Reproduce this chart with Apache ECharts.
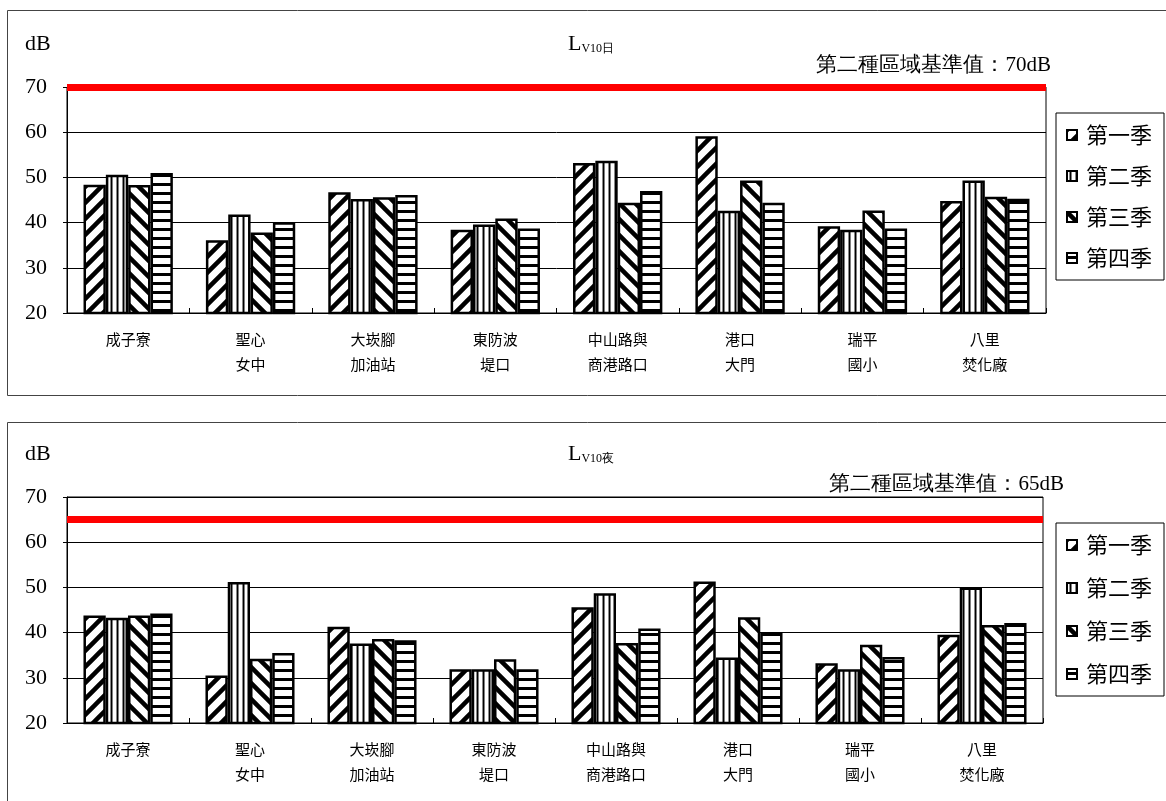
<!DOCTYPE html>
<html>
<head>
<meta charset="utf-8">
<script src="https://cdn.jsdelivr.net/npm/echarts@6/dist/echarts.min.js"></script>
<style>
html,body{margin:0;padding:0;background:#fff;}
#c{width:1166px;height:801px;}
</style>
</head>
<body>
<div id="c"></div>
<script>
const categories = ['成子寮','聖心\n女中','大崁腳\n加油站','東防波\n堤口','中山路與\n商港路口','港口\n大門','瑞平\n國小','八里\n焚化廠'];
const seriesNames = ['第一季','第二季','第三季','第四季'];
const yTicks = [20, 30, 40, 50, 60, 70];

const dayQ1 = [48.4, 36.1, 46.7, 38.4, 53.2, 59.1, 39.2, 44.8];
const dayQ2 = [50.6, 41.8, 45.2, 39.6, 53.7, 42.6, 38.4, 49.3];
const dayQ3 = [48.3, 37.8, 45.6, 40.9, 44.4, 49.3, 42.7, 45.7];
const dayQ4 = [51.0, 40.1, 46.1, 38.7, 47.0, 44.4, 38.7, 45.3];
const dayLimit = 70;

const nightQ1 = [43.8, 30.5, 41.3, 31.9, 45.6, 51.3, 33.2, 39.5];
const nightQ2 = [43.3, 51.2, 37.6, 31.9, 48.7, 34.5, 31.9, 50.0];
const nightQ3 = [43.8, 34.2, 38.6, 34.1, 37.7, 43.4, 37.3, 41.7];
const nightQ4 = [44.2, 35.5, 38.3, 31.9, 40.9, 40.0, 34.6, 42.1];
const nightLimit = 65;

function makePattern(type) {
  const cv = document.createElement('canvas');
  let w, h;
  if (type === 'fwd' || type === 'back') { w = 16; h = 16; }
  else if (type === 'vert') { w = 6; h = 4; }
  else { w = 4; h = 9; }
  cv.width = w; cv.height = h;
  const ctx = cv.getContext('2d');
  ctx.fillStyle = '#fff';
  ctx.fillRect(0, 0, w, h);
  ctx.strokeStyle = '#000';
  ctx.fillStyle = '#000';
  if (type === 'fwd') {
    ctx.lineWidth = 4.5;
    ctx.beginPath();
    ctx.moveTo(-2, h + 2); ctx.lineTo(w + 2, -2);
    ctx.moveTo(-2, 2); ctx.lineTo(2, -2);
    ctx.moveTo(w - 2, h + 2); ctx.lineTo(w + 2, h - 2);
    ctx.stroke();
  } else if (type === 'back') {
    ctx.lineWidth = 4.5;
    ctx.beginPath();
    ctx.moveTo(-2, -2); ctx.lineTo(w + 2, h + 2);
    ctx.moveTo(w - 2, -2); ctx.lineTo(w + 2, 2);
    ctx.moveTo(-2, h - 2); ctx.lineTo(2, h + 2);
    ctx.stroke();
  } else if (type === 'vert') {
    ctx.fillStyle = '#888';
    ctx.fillRect(2, 0, 1, h);
    ctx.fillStyle = '#000';
    ctx.fillRect(3, 0, 1.5, h);
  } else {
    ctx.fillRect(0, 3, w, 3);
  }
  return cv;
}
const patterns = [makePattern('fwd'), makePattern('vert'), makePattern('back'), makePattern('horiz')];

const serif = 'Liberation Serif';
const cjk = 'Noto Sans CJK TC';

function makeSeries(dataArr, gridIdx, limit) {
  return dataArr.map((d, i) => {
    const s = {
      name: seriesNames[i],
      type: 'bar',
      xAxisIndex: gridIdx,
      yAxisIndex: gridIdx,
      data: d,
      barGap: '0%',
      barCategoryGap: '27%',
      itemStyle: { color: { image: patterns[i], repeat: 'repeat' }, borderColor: '#000', borderWidth: 2.5 },
      emphasis: { disabled: true },
      animation: false
    };
    if (i === 0) {
      s.markLine = {
        silent: true,
        symbol: ['none', 'none'],
        label: { show: false },
        lineStyle: { color: '#ff0000', width: 7, type: 'solid' },
        data: [{ yAxis: limit }],
        animation: false
      };
    }
    return s;
  });
}

function yAxis(gridIdx) {
  return {
    type: 'value', gridIndex: gridIdx, min: yTicks[0], max: yTicks[yTicks.length - 1], interval: 10,
    axisLine: { show: true, lineStyle: { color: '#000', width: 1 } },
    axisTick: { show: true, length: 4, lineStyle: { color: '#000' } },
    axisLabel: { color: '#000', fontSize: 22, fontFamily: serif, margin: 20 },
    splitLine: { show: true, lineStyle: { color: '#000', width: 1 } }
  };
}
function xAxis(gridIdx) {
  return {
    type: 'category', gridIndex: gridIdx, data: categories,
    axisLine: { show: true, lineStyle: { color: '#000', width: 1 } },
    axisTick: { show: true, inside: true, length: 5, lineStyle: { color: '#000' } },
    axisLabel: { color: '#000', fontSize: 15, fontFamily: cjk, lineHeight: 25, margin: 14, interval: 0 }
  };
}
function legend(top, gap) {
  return {
    orient: 'vertical', left: 1056, top: top, data: seriesNames,
    icon: 'rect',
    itemWidth: 10, itemHeight: 10, itemGap: gap,
    backgroundColor: '#fff', borderColor: '#000', borderWidth: 1,
    padding: [11, 12, 11, 10],
    textStyle: { fontSize: 22, fontFamily: cjk, color: '#000', padding: [0, 0, 0, 4] },
    selectedMode: false,
    itemStyle: { borderColor: '#000', borderWidth: 2 }
  };
}

const titleRich = {
  a: { fontSize: 22, fontFamily: serif, fontWeight: 'normal', color: '#000' },
  b: { fontSize: 12, fontFamily: serif, fontWeight: 'normal', color: '#000', padding: [10, 0, 0, 0] }
};

const chart = echarts.init(document.getElementById('c'), null, { renderer: 'canvas' });
chart.setOption({
  animation: false,
  backgroundColor: '#fff',
  grid: [
    { left: 67, right: 120, top: 87, height: 226, show: true, borderColor: '#000', borderWidth: 1, backgroundColor: 'transparent' },
    { left: 67, right: 123, top: 497, height: 226, show: true, borderColor: '#000', borderWidth: 1, backgroundColor: 'transparent' }
  ],
  xAxis: [xAxis(0), xAxis(1)],
  yAxis: [yAxis(0), yAxis(1)],
  legend: [legend(113, 19), legend(523, 21)],
  title: [
    { text: 'dB', left: 20, top: 28, textStyle: { fontSize: 22, fontFamily: serif, fontWeight: 'normal', color: '#000' } },
    { text: '{a|L}{b|V10日}', left: 563, top: 28, textStyle: { fontWeight: 'normal', rich: titleRich } },
    { text: '第二種區域基準值：' + dayLimit + 'dB', right: 110, top: 50, textStyle: { fontSize: 21, fontFamily: serif, fontWeight: 'normal', color: '#000' } },
    { text: 'dB', left: 20, top: 438, textStyle: { fontSize: 22, fontFamily: serif, fontWeight: 'normal', color: '#000' } },
    { text: '{a|L}{b|V10夜}', left: 563, top: 438, textStyle: { fontWeight: 'normal', rich: titleRich } },
    { text: '第二種區域基準值：' + nightLimit + 'dB', right: 97, top: 469, textStyle: { fontSize: 21, fontFamily: serif, fontWeight: 'normal', color: '#000' } }
  ],
  graphic: [
    { type: 'rect', shape: { x: 7.5, y: 10.5, width: 1170, height: 385 }, style: { fill: 'none', stroke: '#444', lineWidth: 1 }, silent: true, z: -1 },
    { type: 'rect', shape: { x: 7.5, y: 422.5, width: 1170, height: 400 }, style: { fill: 'none', stroke: '#444', lineWidth: 1 }, silent: true, z: -1 }
  ],
  series: [].concat(
    makeSeries([dayQ1, dayQ2, dayQ3, dayQ4], 0, dayLimit),
    makeSeries([nightQ1, nightQ2, nightQ3, nightQ4], 1, nightLimit)
  )
});
</script>
</body>
</html>
